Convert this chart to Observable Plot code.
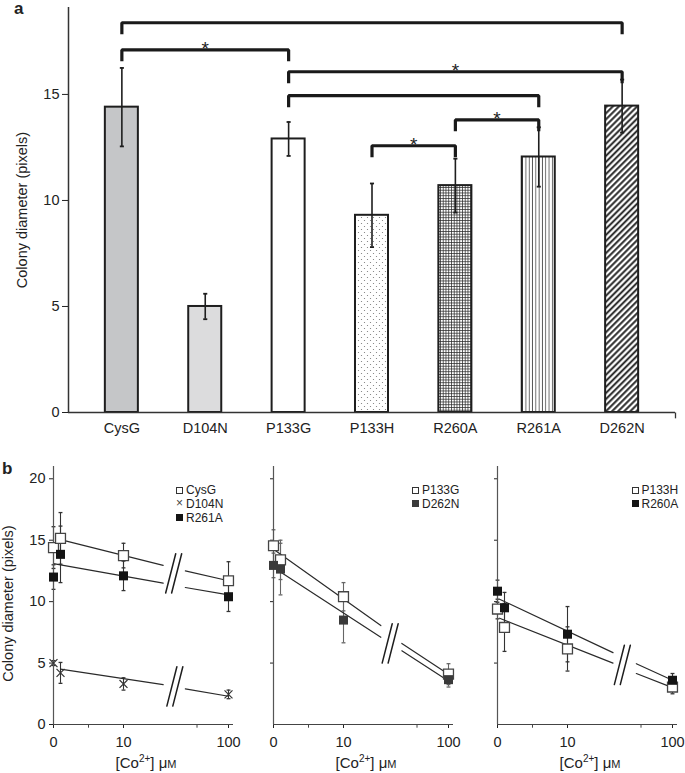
<!DOCTYPE html>
<html><head><meta charset="utf-8">
<script src="https://cdn.jsdelivr.net/npm/d3@7"></script>
<script src="https://cdn.jsdelivr.net/npm/@observablehq/plot@0.6"></script>
<style>
body{margin:0;background:#fff;}
#wrap{position:relative;width:685px;height:773px;font-family:"Liberation Sans",Arial,sans-serif;color:#222;overflow:hidden;background:#fff}
.pl{position:absolute}
.plabel{position:absolute;font-weight:bold;font-size:17px;line-height:17px}
.leg{position:absolute;font-size:12px;line-height:12px;height:12px;white-space:nowrap;display:flex;align-items:center;color:#222}
.mk{display:inline-block;width:7px;height:7px;margin-right:3px;box-sizing:border-box;flex:none}
.mk.open{border:1.3px solid #333;background:#fff}
.mk.filled{background:#141414}
.mk.filledGray{background:#3a3a3a}
.mk.times{font-size:12px;line-height:7px;text-align:center;color:#444;overflow:visible}
</style></head><body><div id="wrap"></div>
<script>
// ---------------- Panel a data ----------------
const barCategories = ["CysG", "D104N", "P133G", "P133H", "R260A", "R261A", "D262N"];
const barMeans = [14.4, 5.0, 12.9, 9.3, 10.7, 12.05, 14.45];
const barErrors = [1.85, 0.6, 0.8, 1.5, 1.27, 1.4, 1.25];
const bracketFrom = ["CysG", "CysG", "P133G", "P133G", "R260A", "P133H"];
const bracketTo = ["D262N", "P133G", "D262N", "R261A", "R261A", "R260A"];
const bracketLevels = [18.38, 17.1, 16.07, 14.94, 13.8, 12.58];
const bracketStars = [false, true, true, false, true, true];
const yTicksA = [0, 5, 10, 15];

// ---------------- Panel b data ----------------
const concentrations = [0, 1, 10, 100];
const xTicksB = [0, 10, 100];
const xMinorTicksB = [5, 73];
const yTicksB = [0, 5, 10, 15, 20];
// sub-panel 1
const cysgMeans = [14.4, 15.15, 13.75, 11.7];
const cysgErrors = [1.7, 2.1, 1.0, 1.55];
const d104nMeans = [5.0, 4.2, 3.3, 2.45];
const d104nErrors = [0.2, 0.85, 0.5, 0.35];
const r261aMeans = [12.0, 13.85, 12.1, 10.4];
const r261aErrors = [1.0, 2.3, 1.2, 1.2];
// sub-panel 2
const p133gMeans = [14.55, 13.4, 10.4, 4.1];
const p133gErrors = [1.3, 1.6, 1.15, 0.85];
const d262nMeans = [12.95, 12.65, 8.5, 3.65];
const d262nErrors = [1.0, 2.1, 1.85, 0.6];
// sub-panel 3
const p133hMeans = [9.4, 7.9, 6.15, 3.05];
const p133hErrors = [0.8, 1.95, 1.8, 0.55];
const r260aMeans = [10.85, 9.5, 7.35, 3.6];
const r260aErrors = [0.9, 1.25, 2.25, 0.55];
// fitted trend lines (start, before axis break, after axis break, end)
const cysgTrendX = [1, 44, 63, 100];
const cysgTrendY = [15.05, 12.95, 12.5, 11.7];
const r261aTrendX = [0, 44, 63, 100];
const r261aTrendY = [13.1, 11.5, 11.15, 10.55];
const d104nTrendX = [1, 44, 63, 100];
const d104nTrendY = [4.5, 3.25, 2.9, 2.3];
const p133gTrendX = [0.3, 42, 60, 100];
const p133gTrendY = [14.15, 8.05, 6.6, 4.1];
const d262nTrendX = [0.5, 42, 60, 100];
const d262nTrendY = [12.6, 7.1, 6.0, 3.55];
const r260aTrendX = [0.3, 49, 69, 100];
const r260aTrendY = [10.2, 5.85, 4.95, 3.6];
const p133hTrendX = [0.3, 49, 69, 100];
const p133hTrendY = [8.65, 5.0, 4.15, 3.0];
// axis-break "//" marks (centre, µM and value)
const b1BreakX = [53, 54];
const b1BreakY = [12.3, 3.1];
const b2BreakX = [50];
const b2BreakY = [6.6];
const b3BreakX = [57];
const b3BreakY = [4.85];

// ---------------- styles / layout ----------------
const FONT = "Liberation Sans, Arial, sans-serif";
const barFills = ["#c5c6c8", "#dcdcdd", "#ffffff", "url(#pat-dots)", "url(#pat-grid)", "url(#pat-vert)", "url(#pat-diag)"];
const BAR_HALF = 0.198;
const LEG = 0.54;
const BREAK_HALF_W = 4.3, BREAK_HALF_H = 1.6, BREAK_GAP = 5.1;
const NS = "http://www.w3.org/2000/svg";
const capSymbol = {draw(ctx, size) { const w = Math.sqrt(size) / 2; ctx.moveTo(-w, 0); ctx.lineTo(w, 0); }};
const downTick = {draw(ctx, size) { const h = Math.sqrt(size); ctx.moveTo(0, 0); ctx.lineTo(0, h); }};
const markerStyles = {
  open: {symbol: "square", r: 5.6, fill: "#fff", stroke: "#444", strokeWidth: 1.3},
  filled: {symbol: "square", r: 5.1, fill: "#141414", stroke: "none"},
  filledGray: {symbol: "square", r: 5.1, fill: "#3a3a3a", stroke: "none"},
  times: {symbol: "times", r: 3.7, fill: "none", stroke: "#333", strokeWidth: 1.2}
};

const wrap = document.getElementById("wrap");

const patternDefs = () => {
  const defs = document.createElementNS(NS, "defs");
  defs.innerHTML = `
  <pattern id="pat-dots" patternUnits="userSpaceOnUse" width="6" height="6">
    <rect width="6" height="6" fill="#fff"/>
    <circle cx="1.5" cy="1.5" r="0.6" fill="#777"/>
    <circle cx="4.5" cy="4.5" r="0.6" fill="#777"/>
  </pattern>
  <pattern id="pat-grid" patternUnits="userSpaceOnUse" width="2.75" height="2.75">
    <rect width="2.75" height="2.75" fill="#fff"/>
    <path d="M0 0.4H2.75M0.4 0V2.75" stroke="#2a2a2a" stroke-width="0.8"/>
  </pattern>
  <pattern id="pat-vert" patternUnits="userSpaceOnUse" width="3.3" height="10">
    <rect width="3.3" height="10" fill="#fff"/>
    <path d="M1.2 0V10" stroke="#333" stroke-width="0.8"/>
  </pattern>
  <pattern id="pat-diag" patternUnits="userSpaceOnUse" width="4.3" height="10" patternTransform="rotate(45)">
    <rect width="4.3" height="10" fill="#fff"/>
    <path d="M1.2 0V10" stroke="#1e1e1e" stroke-width="1.9"/>
  </pattern>`;
  return defs;
};

// ---------------- Panel a ----------------
const rowsA = barCategories.map((c, i) => ({c, i, mean: barMeans[i], err: barErrors[i]}));
const catIndex = c => barCategories.indexOf(c);
const bracketRows = bracketFrom.map((f, k) => ({k, a: catIndex(f), b: catIndex(bracketTo[k]), level: bracketLevels[k], star: bracketStars[k]}));
const bracketPath = bracketRows.flatMap(r => [
  {k: r.k, x: r.a, y: r.level - LEG}, {k: r.k, x: r.a, y: r.level},
  {k: r.k, x: r.b, y: r.level}, {k: r.k, x: r.b, y: r.level - LEG}
]);
const xDomainA = [-0.64, 6.64];

const plotA = Plot.plot({
  width: 685, height: 440, marginLeft: 68, marginRight: 10, marginTop: 7, marginBottom: 28,
  style: {fontFamily: FONT, fontSize: "14.5px", color: "#222", background: "transparent"},
  x: {type: "linear", domain: xDomainA, ticks: d3.range(barCategories.length), tickFormat: i => barCategories[i], tickSize: 0, tickPadding: 10, label: null},
  y: {domain: [0, 19.1], ticks: yTicksA, tickSize: 6, tickPadding: 3, label: null},
  marks: [
    patternDefs,
    ...rowsA.map((r, i) => Plot.rectY([r], {x1: d => d.i - BAR_HALF, x2: d => d.i + BAR_HALF, y: "mean", fill: barFills[i], stroke: "#1e1e1e", strokeWidth: 2})),
    Plot.ruleX(rowsA, {x: "i", y1: d => d.mean - d.err, y2: d => d.mean + d.err, stroke: "#1e1e1e", strokeWidth: 1.6}),
    Plot.dot(rowsA, {x: "i", y: d => d.mean - d.err, symbol: capSymbol, r: 2.3, fill: "none", stroke: "#1e1e1e", strokeWidth: 1.8}),
    Plot.dot(rowsA, {x: "i", y: d => d.mean + d.err, symbol: capSymbol, r: 2.3, fill: "none", stroke: "#1e1e1e", strokeWidth: 1.8}),
    Plot.line(bracketPath, {x: "x", y: "y", z: "k", stroke: "#1a1a1a", strokeWidth: 3.2, strokeLinejoin: "miter", strokeLinecap: "butt"}),
    Plot.text(bracketRows.filter(r => r.star), {x: r => (r.a + r.b) / 2, y: "level", text: () => "*", dy: -1, fontSize: 19, fill: "#222"}),
    Plot.ruleY([0], {stroke: "#333", strokeWidth: 1.5}),
    Plot.ruleX([xDomainA[0]], {stroke: "#333", strokeWidth: 1.5}),
    Plot.dot([xDomainA[1]], {x: d => d, y: 0, symbol: downTick, r: 3.3, fill: "none", stroke: "#333", strokeWidth: 1.3}),
    Plot.text(["Colony diameter (pixels)"], {frameAnchor: "left", textAnchor: "middle", rotate: -90, dx: -46, fontSize: 14.5, fill: "#222"})
  ]
});
plotA.classList.add("pl");
plotA.style.left = "0px"; plotA.style.top = "0px";
wrap.appendChild(plotA);

// ---------------- Panel b ----------------
const subPanels = [
  {left: 0, yLabels: true, errColor: "#333", breaksX: b1BreakX, breaksY: b1BreakY,
   legendLeft: 176, legendTop: 490,
   series: [
     {name: "CysG", means: cysgMeans, errors: cysgErrors, trendX: cysgTrendX, trendY: cysgTrendY, marker: "open"},
     {name: "D104N", means: d104nMeans, errors: d104nErrors, trendX: d104nTrendX, trendY: d104nTrendY, marker: "times"},
     {name: "R261A", means: r261aMeans, errors: r261aErrors, trendX: r261aTrendX, trendY: r261aTrendY, marker: "filled"}]},
  {left: 220, yLabels: false, errColor: "#666", breaksX: b2BreakX, breaksY: b2BreakY,
   legendLeft: 412, legendTop: 490,
   series: [
     {name: "P133G", means: p133gMeans, errors: p133gErrors, trendX: p133gTrendX, trendY: p133gTrendY, marker: "open"},
     {name: "D262N", means: d262nMeans, errors: d262nErrors, trendX: d262nTrendX, trendY: d262nTrendY, marker: "filledGray"}]},
  {left: 444, yLabels: false, errColor: "#333", breaksX: b3BreakX, breaksY: b3BreakY,
   legendLeft: 631.5, legendTop: 490,
   series: [
     {name: "P133H", means: p133hMeans, errors: p133hErrors, trendX: p133hTrendX, trendY: p133hTrendY, marker: "open"},
     {name: "R260A", means: r260aMeans, errors: r260aErrors, trendX: r260aTrendX, trendY: r260aTrendY, marker: "filled"}]}
];

const B_TOP = 455, B_W = 237, B_H = 318, B_ML = 53, B_MR = 4;
const LEGEND_ROW = 13.9;

subPanels.forEach(cfg => {
  const pts = cfg.series.flatMap(s => concentrations.map((c, j) => ({s: s.name, c, m: s.means[j], e: s.errors[j]})));
  const trend = cfg.series.flatMap(s => s.trendX.map((x, j) => ({seg: s.name + (j < 2 ? "a" : "b"), x, y: s.trendY[j]})));
  const breakStrokes = cfg.breaksX.flatMap((bx, k) => [-1, 1].flatMap(side => {
    const cx = bx + side * BREAK_GAP / 2, id = k + "_" + side, by = cfg.breaksY[k];
    return [{id, x: cx - BREAK_HALF_W, y: by - BREAK_HALF_H}, {id, x: cx + BREAK_HALF_W, y: by + BREAK_HALF_H}];
  }));
  const marks = [
    Plot.ruleX(pts, {x: "c", y1: d => d.m - d.e, y2: d => d.m + d.e, stroke: cfg.errColor, strokeWidth: 1.1}),
    Plot.dot(pts, {x: "c", y: d => d.m - d.e, symbol: capSymbol, r: 2.2, fill: "none", stroke: cfg.errColor, strokeWidth: 1.3}),
    Plot.dot(pts, {x: "c", y: d => d.m + d.e, symbol: capSymbol, r: 2.2, fill: "none", stroke: cfg.errColor, strokeWidth: 1.3}),
    Plot.line(trend, {x: "x", y: "y", z: "seg", stroke: "#2a2a2a", strokeWidth: 1.2}),
    Plot.line(breakStrokes, {x: "x", y: "y", z: "id", stroke: "#1e1e1e", strokeWidth: 1.5}),
    Plot.ruleY([0], {stroke: "#444", strokeWidth: 1.2}),
    Plot.ruleX([0], {stroke: "#555", strokeWidth: 1.2}),
    Plot.dot(xMinorTicksB, {x: d => d, y: 0, symbol: downTick, r: 1.8, fill: "none", stroke: "#444", strokeWidth: 1}),
    ...cfg.series.map(s => Plot.dot(pts.filter(p => p.s === s.name), {x: "c", y: "m", ...markerStyles[s.marker]}))
  ];
  if (cfg.yLabels) marks.push(Plot.text(["Colony diameter (pixels)"], {frameAnchor: "left", textAnchor: "middle", rotate: -90, dx: -45, dy: 8, fontSize: 14.5, fill: "#222"}));
  const p = Plot.plot({
    width: B_W, height: B_H, marginLeft: B_ML, marginRight: B_MR, marginTop: 11, marginBottom: 49,
    style: {fontFamily: FONT, fontSize: "14.5px", color: "#222", background: "transparent", overflow: "visible"},
    x: {type: "linear", domain: [0, 10, 100], range: [B_ML, B_ML + 70, B_ML + 175], ticks: xTicksB, tickSize: 4, tickPadding: 8, label: null},
    y: {domain: [0, 21], ticks: cfg.yLabels ? yTicksB : yTicksB.slice(1), tickFormat: cfg.yLabels ? (d => String(d)) : (() => ""), tickSize: cfg.yLabels ? 4 : 3, tickPadding: 4, label: null},
    marks
  });
  // axis title with superscript and small-cap M
  const cx = (B_ML + B_W - B_MR) / 2 + 3;
  const t = d3.select(p).append("text").attr("x", cx).attr("y", 313).attr("text-anchor", "middle")
    .attr("font-size", 15).attr("fill", "#222").attr("font-family", FONT);
  t.append("tspan").text("[Co");
  t.append("tspan").attr("dy", -6).attr("font-size", 10).text("2+");
  t.append("tspan").attr("dy", 6).text("] μ");
  t.append("tspan").attr("font-size", 11).text("M");
  p.classList.add("pl");
  p.style.left = cfg.left + "px"; p.style.top = B_TOP + "px";
  wrap.appendChild(p);

  // legend
  cfg.series.forEach((s, k) => {
    const row = document.createElement("div");
    row.className = "leg";
    row.style.left = cfg.legendLeft + "px";
    row.style.top = (cfg.legendTop - 6 + k * LEGEND_ROW) + "px";
    const mk = document.createElement("span");
    mk.className = "mk " + s.marker;
    if (s.marker === "times") mk.textContent = "×";
    const tx = document.createElement("span");
    tx.textContent = s.name;
    row.appendChild(mk); row.appendChild(tx);
    wrap.appendChild(row);
  });
});

// panel letters
[["a", 14, 0], ["b", 2, 459.6]].forEach(([txt, l, tp]) => {
  const d = document.createElement("div");
  d.className = "plabel"; d.textContent = txt;
  d.style.left = l + "px"; d.style.top = tp + "px";
  wrap.appendChild(d);
});
</script>
</body></html>
